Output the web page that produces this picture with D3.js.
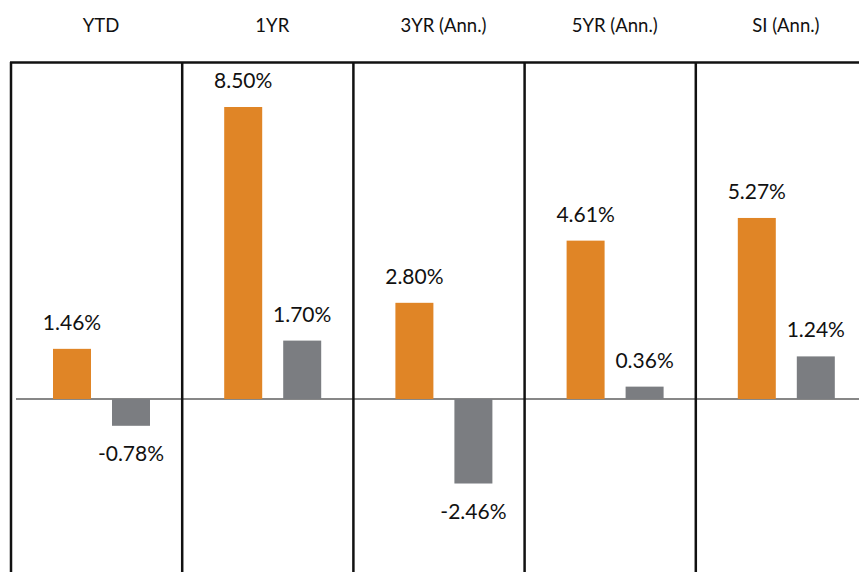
<!DOCTYPE html>
<html>
<head>
<meta charset="utf-8">
<script src="https://cdn.jsdelivr.net/npm/d3@7"></script>
<style>
  body { margin: 0; background: #fff; }
  text { font-family: Lato, "Open Sans", sans-serif; fill: #111; }
</style>
</head>
<body>
<div id="chart"></div>
<script>
const categories = ["YTD", "1YR", "3YR (Ann.)", "5YR (Ann.)", "SI (Ann.)"];
const series = ["fund", "benchmark"];
const fundValues = [1.46, 8.50, 2.80, 4.61, 5.27];
const benchValues = [-0.78, 1.70, -2.46, 0.36, 1.24];
const colors = {fund: "#E08526", benchmark: "#7B7D81"};

const width = 859, height = 572;

const svg = d3.select("#chart").append("svg")
    .attr("width", width)
    .attr("height", height);

// one panel per category
const xScale = d3.scaleBand()
    .domain(categories)
    .range([11, 11 + 171.2 * categories.length]);

// bars inside a panel
const xInner = d3.scaleBand()
    .domain(series)
    .range([42, 139])
    .paddingInner(0.356)
    .paddingOuter(0);

const yScale = d3.scaleLinear()
    .domain([0, 8.5])
    .range([399, 107]);

const data = [];
categories.forEach((c, i) => {
    data.push({cat: c, key: "fund", value: fundValues[i]});
    data.push({cat: c, key: "benchmark", value: benchValues[i]});
});

// zero line
svg.append("line")
    .attr("x1", 16).attr("x2", width)
    .attr("y1", yScale(0)).attr("y2", yScale(0))
    .attr("stroke", "#111").attr("stroke-width", 1.2);

// bars
svg.append("g").selectAll("rect")
    .data(data)
    .enter()
    .append("rect")
        .attr("x", d => xScale(d.cat) + xInner(d.key))
        .attr("width", xInner.bandwidth())
        .attr("y", d => yScale(Math.max(0, d.value)))
        .attr("height", d => Math.abs(yScale(d.value) - yScale(0)))
        .attr("fill", d => colors[d.key]);

// value labels
svg.append("g").selectAll("text")
    .data(data)
    .enter()
    .append("text")
        .attr("x", d => xScale(d.cat) + xInner(d.key) + xInner.bandwidth() / 2)
        .attr("y", d => d.value >= 0 ? yScale(d.value) - 19 : yScale(d.value) + 35)
        .attr("text-anchor", "middle")
        .attr("font-size", 21)
        .text(d => d.value.toFixed(2) + "%");

// panel separators
svg.append("g").selectAll("line")
    .data(categories)
    .enter()
    .append("line")
        .attr("x1", d => xScale(d)).attr("x2", d => xScale(d))
        .attr("y1", 62).attr("y2", height)
        .attr("stroke", "#111").attr("stroke-width", 2.5);

// top rule
svg.append("line")
    .attr("x1", 10).attr("x2", width)
    .attr("y1", 62.5).attr("y2", 62.5)
    .attr("stroke", "#111").attr("stroke-width", 2.5);

// headers
svg.append("g").selectAll("text")
    .data(categories)
    .enter()
    .append("text")
        .attr("x", d => xScale(d) + xScale.bandwidth() / 2 + 4.5)
        .attr("y", 32)
        .attr("text-anchor", "middle")
        .attr("font-size", 18.5)
        .text(d => d);
</script>
</body>
</html>
